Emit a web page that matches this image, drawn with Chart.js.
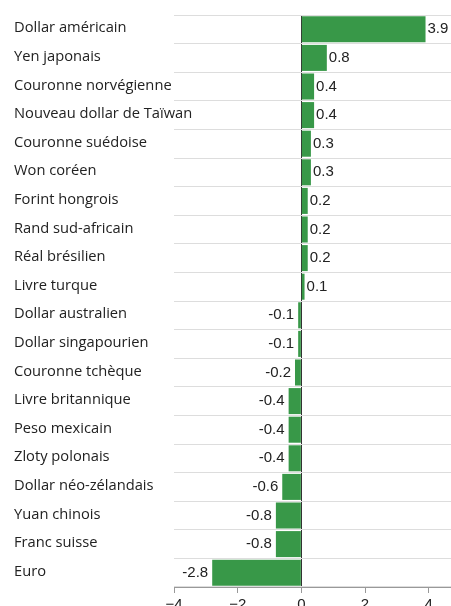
<!DOCTYPE html>
<html>
<head>
  <script src="https://cdn.jsdelivr.net/npm/chart.js"></script>
  <style>
    body { margin: 0; background: #fff; overflow: hidden; }
    #wrap { position: relative; width: 451px; height: 606px; }
  </style>
</head>
<body>
  <div id="wrap"><canvas id="fxChart"></canvas></div>
  <script>
    const currencies = [
      'Dollar américain', 'Yen japonais', 'Couronne norvégienne', 'Nouveau dollar de Taïwan',
      'Couronne suédoise', 'Won coréen', 'Forint hongrois', 'Rand sud-africain', 'Réal brésilien',
      'Livre turque', 'Dollar australien', 'Dollar singapourien', 'Couronne tchèque',
      'Livre britannique', 'Peso mexicain', 'Zloty polonais', 'Dollar néo-zélandais',
      'Yuan chinois', 'Franc suisse', 'Euro'
    ];
    const changes = [3.9, 0.8, 0.4, 0.4, 0.3, 0.3, 0.2, 0.2, 0.2, 0.1,
                     -0.1, -0.1, -0.2, -0.4, -0.4, -0.4, -0.6, -0.8, -0.8, -2.8];
    const xTicks = [-4, -2, 0, 2, 4];

    const CAT_FONT = "14.7px 'Open Sans', 'Noto Sans', sans-serif";
    const NUM_FAMILY = "'Liberation Sans', Arial, sans-serif";
    const TEXT = '#222';

    // category names, left aligned; they are allowed to run over the plot
    const catLabels = {
      id: 'catLabels',
      afterDraw(chart) {
        const ctx = chart.ctx;
        const y = chart.scales.y;
        ctx.save();
        ctx.font = CAT_FONT;
        ctx.fillStyle = TEXT;
        ctx.textAlign = 'left';
        ctx.textBaseline = 'middle';
        currencies.forEach((name, i) => {
          ctx.fillText(name, 14, y.getPixelForTick(i) - 1);
        });
        ctx.restore();
      }
    };

    // value labels next to each bar end
    const barValues = {
      id: 'barValues',
      afterDatasetsDraw(chart) {
        const ctx = chart.ctx;
        const meta = chart.getDatasetMeta(0);
        ctx.save();
        ctx.font = '15px ' + NUM_FAMILY;
        ctx.fillStyle = TEXT;
        ctx.textBaseline = 'middle';
        meta.data.forEach((bar, i) => {
          const v = changes[i];
          if (v >= 0) {
            ctx.textAlign = 'left';
            ctx.fillText(v.toFixed(1), bar.x + 2, bar.y);
          } else {
            ctx.textAlign = 'right';
            ctx.fillText(v.toFixed(1), bar.x - 4, bar.y);
          }
        });
        ctx.restore();
      }
    };

    new Chart(document.getElementById('fxChart'), {
      type: 'bar',
      data: {
        labels: currencies,
        datasets: [{
          data: changes,
          backgroundColor: '#389848',
          categoryPercentage: 1,
          barPercentage: 0.91
        }]
      },
      options: {
        indexAxis: 'y',
        responsive: true,
        maintainAspectRatio: false,
        animation: false,
        layout: { padding: { left: 14, top: 15, right: 0, bottom: 0 } },
        plugins: { legend: { display: false }, tooltip: { enabled: false } },
        scales: {
          x: {
            min: -4,
            max: 4.7,
            afterBuildTicks: s => { s.ticks = xTicks.map(v => ({ value: v })); },
            afterFit: s => { s.height = 19; },
            ticks: {
              color: TEXT,
              font: { family: NUM_FAMILY, size: 15 },
              padding: 3,
              callback: v => String(v).replace('-', '\u2212')
            },
            grid: {
              color: c => (c.tick && c.tick.value === 0) ? '#333' : 'rgba(0,0,0,0)',
              tickColor: '#999',
              tickLength: 6
            },
            border: { display: true, color: '#999' }
          },
          y: {
            afterFit: s => { s.width = 160; },
            ticks: { display: false, autoSkip: false },
            grid: { color: '#ddd', drawTicks: false },
            border: { display: false }
          }
        }
      },
      plugins: [barValues, catLabels]
    });
  </script>
</body>
</html>
